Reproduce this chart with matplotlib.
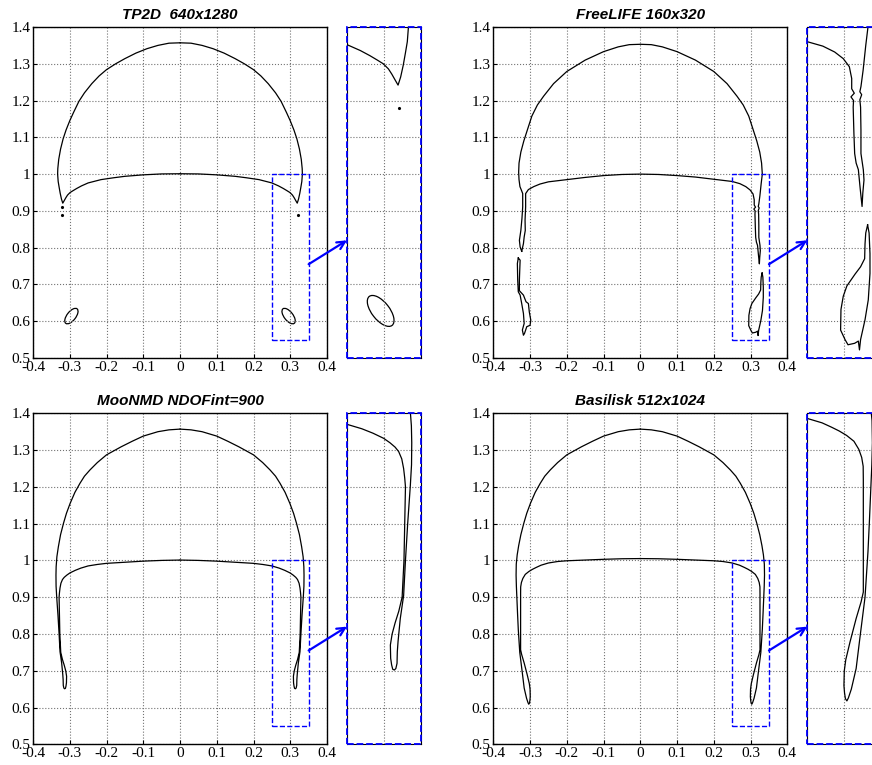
import numpy as np
import matplotlib.pyplot as plt
from matplotlib.patches import Rectangle, Ellipse, ConnectionPatch

plt.rcParams['font.family'] = 'Liberation Serif'
plt.rcParams['axes.unicode_minus'] = False

# ---- contour data (x, y) ----
# symmetric cases: right half only, from top of the outer arc, down to the tip,
# and back up the inner line to the axis; left half is the mirror image
tp2d_half = np.array([
    (0.0, 1.357), (0.03, 1.356), (0.06, 1.350), (0.09, 1.341), (0.12, 1.329),
    (0.15, 1.314), (0.175, 1.300), (0.2, 1.284), (0.22, 1.267), (0.24, 1.246),
    (0.26, 1.221), (0.275, 1.198), (0.29, 1.167), (0.30, 1.145), (0.31, 1.120),
    (0.318, 1.096), (0.325, 1.068), (0.330, 1.040), (0.3325, 1.015), (0.333, 1.000),
    (0.3315, 0.980), (0.329, 0.965), (0.326, 0.948), (0.3225, 0.932), (0.319, 0.921),
    (0.315, 0.928), (0.3105, 0.936), (0.306, 0.943), (0.299, 0.950), (0.291, 0.955),
    (0.281, 0.961), (0.268, 0.968), (0.25, 0.976), (0.215, 0.985), (0.181, 0.990),
    (0.15, 0.994), (0.1, 0.998), (0.05, 1.0005), (0.0, 1.001)])
tp2d_dots_x = [-0.321, -0.321, 0.320]
tp2d_dots_y = [0.911, 0.889, 0.890]
# satellite droplets: centre x, centre y, major, minor, angle
tp2d_drops = [(-0.2955, 0.614, 0.050, 0.024, 52), (0.2955, 0.614, 0.050, 0.024, -52)]

moonmd_half = np.array([
    (0.0, 1.357), (0.03, 1.355), (0.06, 1.350), (0.1, 1.338), (0.13, 1.324),
    (0.16, 1.309), (0.2, 1.287), (0.225, 1.266), (0.245, 1.246), (0.26, 1.229),
    (0.272, 1.210), (0.286, 1.185), (0.299, 1.155), (0.309, 1.128), (0.317, 1.101),
    (0.325, 1.070), (0.331, 1.037), (0.335, 1.010), (0.337, 0.983), (0.3375, 0.960),
    (0.3372, 0.930), (0.3356, 0.902), (0.332, 0.850), (0.329, 0.800), (0.3265, 0.752),
    (0.322, 0.721), (0.319, 0.690), (0.318, 0.676), (0.3176, 0.660), (0.316, 0.653),
    (0.314, 0.651), (0.3118, 0.652), (0.3103, 0.658), (0.309, 0.667), (0.3086, 0.685),
    (0.311, 0.700), (0.315, 0.715), (0.320, 0.731), (0.3245, 0.750), (0.327, 0.800),
    (0.328, 0.850), (0.329, 0.900), (0.328, 0.912), (0.3265, 0.925), (0.324, 0.938),
    (0.3198, 0.948), (0.315, 0.954), (0.308, 0.960), (0.2995, 0.966), (0.285, 0.973),
    (0.27, 0.979), (0.25, 0.985), (0.225, 0.989), (0.2, 0.992), (0.15, 0.995),
    (0.1, 0.998), (0.05, 1.000), (0.0, 1.001)])

basilisk_half = np.array([
    (0.0, 1.357), (0.03, 1.355), (0.06, 1.350), (0.1, 1.338), (0.13, 1.324),
    (0.16, 1.309), (0.2, 1.287), (0.225, 1.266), (0.245, 1.246), (0.26, 1.229),
    (0.272, 1.210), (0.286, 1.185), (0.299, 1.155), (0.309, 1.128), (0.317, 1.101),
    (0.325, 1.070), (0.331, 1.040), (0.335, 1.015), (0.3375, 0.990), (0.338, 0.960),
    (0.3372, 0.930), (0.336, 0.902), (0.334, 0.855), (0.332, 0.812), (0.328, 0.750),
    (0.321, 0.694), (0.316, 0.653), (0.3095, 0.625), (0.3055, 0.613), (0.3035, 0.609),
    (0.3015, 0.612), (0.3003, 0.620), (0.2995, 0.630), (0.300, 0.650), (0.302, 0.665),
    (0.3077, 0.689), (0.316, 0.721), (0.3228, 0.744), (0.3257, 0.757), (0.3257, 0.857),
    (0.3257, 0.910), (0.3255, 0.928), (0.3235, 0.940), (0.3196, 0.951), (0.313, 0.962),
    (0.303, 0.970), (0.293, 0.976), (0.283, 0.981), (0.27, 0.987), (0.25, 0.993),
    (0.225, 0.997), (0.2, 0.999), (0.15, 1.001), (0.1, 1.003), (0.05, 1.0045),
    (0.0, 1.005)])

# FreeLIFE is not symmetric: explicit pieces
freelife_main = np.array([
    (-0.3227, 0.790), (-0.327, 0.802), (-0.329, 0.820), (-0.325, 0.847), (-0.322, 0.880),
    (-0.320, 0.911), (-0.320, 0.947), (-0.323, 0.955), (-0.3275, 0.966), (-0.330, 0.985),
    (-0.331, 1.005), (-0.330, 1.030), (-0.325, 1.060), (-0.317, 1.090), (-0.308, 1.118),
    (-0.295, 1.158), (-0.28, 1.188), (-0.263, 1.212), (-0.236, 1.246), (-0.2, 1.279),
    (-0.15, 1.310), (-0.1, 1.333), (-0.06, 1.346), (-0.03, 1.352), (0.0, 1.353),
    (0.03, 1.352), (0.06, 1.346), (0.1, 1.333), (0.15, 1.310), (0.2, 1.279),
    (0.236, 1.246), (0.263, 1.212), (0.28, 1.188), (0.295, 1.158), (0.308, 1.118),
    (0.317, 1.090), (0.325, 1.060), (0.330, 1.030), (0.332, 1.000), (0.329, 0.975),
    (0.3254, 0.941), (0.3225, 0.919), (0.321, 0.912), (0.3235, 0.908), (0.321, 0.901),
    (0.322, 0.891), (0.3225, 0.860), (0.3225, 0.828), (0.3257, 0.806), (0.3266, 0.792),
    (0.325, 0.774), (0.324, 0.756),
    (0.3215, 0.780), (0.319, 0.806), (0.316, 0.815), (0.314, 0.828), (0.313, 0.855),
    (0.312, 0.891), (0.3125, 0.900), (0.309, 0.905), (0.3135, 0.910), (0.310, 0.916),
    (0.310, 0.930), (0.3068, 0.946), (0.2986, 0.957), (0.287, 0.966), (0.271, 0.974),
    (0.25, 0.980), (0.2, 0.986), (0.15, 0.992), (0.1, 0.996), (0.05, 0.999),
    (0.0, 1.000), (-0.05, 0.999), (-0.1, 0.996), (-0.15, 0.991), (-0.2, 0.985),
    (-0.25, 0.979), (-0.273, 0.973), (-0.29, 0.966), (-0.3045, 0.958), (-0.312, 0.947),
    (-0.312, 0.911), (-0.3136, 0.875), (-0.313, 0.847), (-0.316, 0.829), (-0.318, 0.811),
    (-0.3227, 0.790)])
freelife_left_drop = np.array([
    (-0.332, 0.772), (-0.327, 0.766), (-0.328, 0.740), (-0.329, 0.712), (-0.329, 0.683),
    (-0.318, 0.671), (-0.311, 0.653), (-0.3045, 0.648), (-0.302, 0.625), (-0.298, 0.603),
    (-0.300, 0.589), (-0.309, 0.585), (-0.312, 0.576), (-0.315, 0.567), (-0.318, 0.562),
    (-0.3209, 0.576), (-0.316, 0.594), (-0.318, 0.621), (-0.3227, 0.648), (-0.327, 0.671),
    (-0.332, 0.680), (-0.3336, 0.712), (-0.3345, 0.757), (-0.332, 0.772)])
freelife_right_drop = np.array([
    (0.3315, 0.731), (0.3335, 0.720), (0.3347, 0.692), (0.3347, 0.665), (0.3324, 0.629),
    (0.328, 0.602), (0.322, 0.575), (0.3205, 0.561), (0.319, 0.573), (0.314, 0.570),
    (0.305, 0.568), (0.301, 0.575), (0.295, 0.588), (0.2955, 0.616), (0.2986, 0.634),
    (0.3035, 0.648), (0.309, 0.656), (0.3145, 0.664), (0.322, 0.674), (0.3275, 0.685),
    (0.328, 0.705), (0.329, 0.720), (0.3315, 0.731)])

titles = ['TP2D  640x1280', 'FreeLIFE 160x320', 'MooNMD NDOFint=900', 'Basilisk 512x1024']

W, H = 872, 765
fig = plt.figure(figsize=(W / 100, H / 100), dpi=100)

# panel geometry in pixels: main left, top
lefts = [33, 493.3, 33, 493.3]
tops = [27, 27, 413.3, 413.3]


def draw_curves(ax, k):
    kw = dict(color='k', lw=0.9)
    if k == 0:
        ax.plot(tp2d_half[:, 0], tp2d_half[:, 1], **kw)
        ax.plot(-tp2d_half[:, 0], tp2d_half[:, 1], **kw)
        ax.plot(tp2d_dots_x, tp2d_dots_y, 'k.', ms=2.5)
        for cx, cy, a, b, ang in tp2d_drops:
            ax.add_patch(Ellipse((cx, cy), a, b, angle=ang, fill=False, ec='k', lw=0.9))
    elif k == 1:
        for c in (freelife_main, freelife_left_drop, freelife_right_drop):
            ax.plot(c[:, 0], c[:, 1], **kw)
    else:
        c = moonmd_half if k == 2 else basilisk_half
        ax.plot(c[:, 0], c[:, 1], **kw)
        ax.plot(-c[:, 0], c[:, 1], **kw)


grid_kw = dict(color='0.45', linestyle=':', linewidth=0.8)

for k in range(4):
    x0 = lefts[k] / W
    y0 = 1 - (tops[k] + 331) / H
    ax = fig.add_axes([x0, y0, 294 / W, 331 / H])
    axin = fig.add_axes([(lefts[k] + 314) / W, y0, 74 / W, 331 / H])

    draw_curves(ax, k)
    ax.set_xlim(-0.4, 0.4)
    ax.set_ylim(0.5, 1.4)
    xt = np.round(np.arange(-0.4, 0.41, 0.1), 1)
    yt = np.round(np.arange(0.5, 1.41, 0.1), 1)
    ax.set_xticks(xt)
    ax.set_xticklabels(['0' if v == 0 else f'{v:g}' for v in xt])
    ax.set_yticks(yt)
    ax.set_yticklabels([f'{v:g}' for v in yt])
    ax.tick_params(direction='in', length=3, labelsize=11, pad=2)
    ax.grid(True, **grid_kw)
    for s in ax.spines.values():
        s.set_linewidth(1.0)
    ax.set_title(titles[k], family='Liberation Sans', fontweight='bold',
                 fontstyle='italic', fontsize=11, pad=6)
    ax.add_patch(Rectangle((0.25, 0.55), 0.1, 0.45, fill=False, ec='blue',
                           ls='--', lw=1.0, zorder=5))

    draw_curves(axin, k)
    axin.set_xlim(0.25, 0.35)
    axin.set_ylim(0.55, 1.0)
    axin.set_xticks([0.25, 0.3, 0.35])
    axin.set_yticks(np.arange(0.55, 1.001, 0.05))
    axin.tick_params(length=0, labelbottom=False, labelleft=False)
    axin.grid(True, **grid_kw)
    axin.add_patch(Rectangle((0, 0), 1, 1, transform=axin.transAxes, fill=False,
                             ec='blue', ls='--', lw=1.3, clip_on=False, zorder=6))

    arrow = ConnectionPatch(xyA=(0.35, 0.755), coordsA=ax.transData,
                            xyB=(0.25, 0.71), coordsB=axin.transData,
                            arrowstyle='->', color='blue', lw=1.6, mutation_scale=14)
    fig.add_artist(arrow)

fig.savefig('out.png', dpi=100)
